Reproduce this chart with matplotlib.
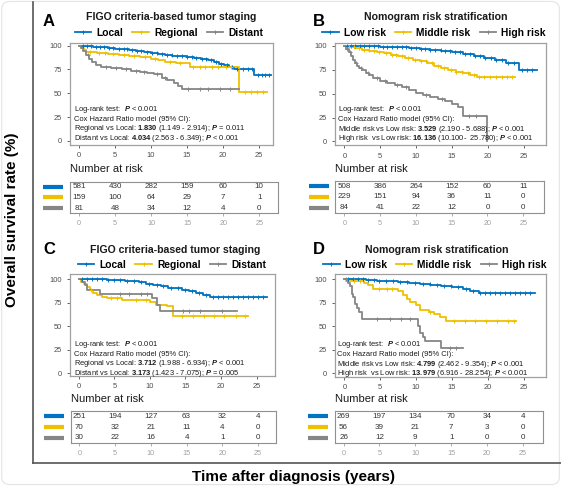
import numpy as np
import matplotlib
matplotlib.use("Agg")
import matplotlib.pyplot as plt
from matplotlib.lines import Line2D
from matplotlib.patches import FancyBboxPatch

plt.rcParams['font.family'] = ['Liberation Sans', 'DejaVu Sans']
plt.rcParams['mathtext.fontset'] = 'custom'
plt.rcParams['mathtext.rm'] = 'Liberation Sans'
plt.rcParams['mathtext.bf'] = 'Liberation Sans:bold'
plt.rcParams['mathtext.it'] = 'Liberation Sans:italic'
plt.rcParams['mathtext.bfit'] = 'Liberation Sans:italic:bold'

W, H = 561, 486
BLUE, YELLOW, GRAY = '#0073C2', '#EFC000', '#868686'
COLORS = [BLUE, YELLOW, GRAY]

# ---------------- data ----------------
# panel A: FIGO staging, training
a_local_t = [0, 0.5, 1.2, 2.0, 3.0, 4.0, 5.0, 6.0, 7.0, 8.0, 9.0, 10.0, 11.0, 12.0, 13.0,
             14.0, 15.0, 16.0, 17.0, 18.0, 18.8, 19.5, 20.2, 20.9, 21.6, 24.4]
a_local_s = [100, 99.6, 99.2, 98.8, 98.2, 97.4, 96.6, 96.0, 95.3, 94.6, 93.5, 92.5, 91.6, 90.6,
             89.6, 88.8, 87.8, 87.0, 86.0, 84.5, 82.5, 80.8, 79.5, 78.0, 76.0, 69.0]
a_local_end = 26.7
a_local_cens = [0.6, 1.1, 1.7, 2.4, 2.9, 3.5, 4.2, 4.8, 5.5, 6.2, 6.7, 7.4, 8.1, 8.7, 9.4, 10.2,
                10.8, 11.5, 12.3, 12.9, 13.6, 14.4, 15.1, 15.7, 16.3, 17.1, 17.7, 18.4, 19.1,
                19.8, 20.6, 21.3, 22.0, 22.8, 23.5, 24.1, 24.9, 25.4, 25.9, 26.4]
a_reg_t = [0, 0.3, 0.7, 1.0, 2.5, 4.0, 5.5, 7.0, 8.5, 10.0, 11.0, 12.0, 13.5, 15.4, 22.3]
a_reg_s = [100, 97.5, 95.0, 93.0, 92.0, 91.0, 90.0, 89.0, 87.8, 86.5, 84.5, 83.0, 81.5, 77.5, 51.0]
a_reg_end = 26.2
a_reg_cens = [1.5, 2.8, 3.6, 4.7, 6.3, 7.6, 9.2, 10.6, 12.6, 14.1, 15.9, 16.8, 17.6, 18.5,
              19.3, 20.4, 21.2, 23.1, 24.0, 24.8, 25.6]
a_dist_t = [0, 0.3, 0.6, 1.0, 1.4, 1.8, 2.3, 3.0, 4.5, 6.0, 7.2, 8.5, 9.5, 10.5, 11.5, 12.3,
            13.2, 13.8, 14.4]
a_dist_s = [100, 97.5, 94.0, 90.0, 86.5, 83.0, 80.0, 78.0, 76.5, 75.0, 73.5, 72.5, 71.5, 70.0,
            66.5, 64.0, 61.0, 58.0, 54.3]
a_dist_end = 22.2
a_dist_cens = [1.2, 3.8, 5.1, 6.6, 8.0, 9.0, 10.8, 12.0, 15.2, 16.8, 17.9, 19.6, 21.0]

# panel B: nomogram risk, training
b_low_t = [0, 1, 3, 5, 7, 9, 10.5, 12, 13.5, 15, 16.5, 18, 19.5, 21, 22.5, 24.4]
b_low_s = [100, 99.6, 99.2, 98.8, 98.2, 97.5, 96.5, 95.5, 94.3, 93.0, 91.5, 89.5, 87.5, 85.0,
           82.0, 74.5]
b_low_end = 26.8
b_low_cens = [0.4, 0.9, 1.5, 2.2, 2.8, 3.4, 4.1, 4.7, 5.4, 6.0, 6.6, 7.3, 8.0, 8.6, 9.3, 10.0,
              10.7, 11.3, 12.0, 12.7, 13.4, 14.0, 14.7, 15.4, 16.1, 16.8, 17.5, 18.2, 18.9,
              19.6, 20.4, 21.2, 22.0, 22.8, 23.6, 24.8, 25.5, 26.2]
b_mid_t = [0, 0.5, 1.5, 2.5, 3.5, 4.5, 5.5, 6.5, 7.5, 8.5, 9.5, 10.5, 11.5, 12.5, 13.5, 14.5,
           15.5, 16.5, 17.5, 18.5]
b_mid_s = [100, 98.5, 97.5, 96.0, 94.5, 93.3, 92.0, 90.5, 89.0, 87.5, 85.5, 83.8, 81.5, 79.0,
           77.0, 75.0, 73.0, 71.0, 69.0, 67.2]
b_mid_end = 23.8
b_mid_cens = [0.7, 1.3, 2.0, 2.8, 3.4, 4.1, 4.9, 5.8, 6.6, 7.2, 8.0, 8.9, 9.8, 10.7, 11.4, 12.2,
              13.0, 13.9, 14.8, 15.6, 16.4, 17.2, 18.0, 18.8, 19.5, 20.3, 21.1, 21.9, 22.6, 23.3]
b_high_t = [0, 0.3, 0.6, 0.9, 1.2, 1.5, 1.8, 2.1, 2.5, 3.0, 3.5, 4.0, 5.0, 6.0, 7.0, 8.0, 9.0,
            10.0, 11.0, 12.0, 13.0, 14.0, 15.0, 15.8, 16.6, 19.9]
b_high_s = [100, 97, 93, 89, 85, 82, 79, 77, 75, 72, 69, 66.5, 63.5, 61, 59, 56.5, 54, 50.5, 48,
            46.5, 44.5, 42, 39.5, 36, 26.5, 0]
b_high_end = 19.9
b_high_cens = [0.4, 0.8, 1.6, 2.3, 3.3, 4.6, 5.7, 7.4, 8.6, 11.4, 13.6, 17.4, 18.3]

# panel C: FIGO staging, validation
c_local_t = [0, 2, 4, 5.5, 6.5, 7.5, 8.5, 9.5, 10.5, 11.5, 12.5, 13.5, 14.5, 15.5, 16.5, 17.5,
             18.4]
c_local_s = [100, 99.6, 99.2, 98.8, 98.3, 97.5, 96.5, 95.0, 93.5, 92.3, 91.0, 90.0, 88.5, 87.0,
             85.5, 83.5, 80.8]
c_local_end = 26.5
c_local_cens = [0.5, 1.2, 1.9, 2.6, 3.3, 4.1, 4.9, 5.8, 6.8, 7.8, 8.8, 9.9, 11.0, 11.9, 12.9,
                13.9, 14.9, 15.9, 16.9, 17.9, 18.9, 19.6, 20.3, 21.0, 21.7, 22.4, 23.1, 23.8,
                24.5, 25.2, 25.9]
c_reg_t = [0, 0.3, 0.7, 1.1, 1.5, 2.0, 2.6, 3.2, 4.0, 6.0, 10.0, 10.8, 12.4, 13.3]
c_reg_s = [100, 97.1, 94.2, 91.3, 88.4, 85.5, 82.6, 81.1, 79.6, 77.5, 75.2, 72.7, 71.2, 60.5]
c_reg_end = 23.8
c_reg_cens = [1.7, 4.5, 5.3, 8.1, 9.5, 14.5, 16.1, 17.6, 19.0, 20.4, 22.1, 23.4]
c_dist_t = [0, 0.4, 0.8, 1.2, 3.0, 10.3, 11.0, 11.4]
c_dist_s = [100, 96.7, 93.3, 88.4, 84.4, 80.0, 72.5, 66.5]
c_dist_end = 22.2
c_dist_cens = [5.8, 7.0, 8.8, 9.6, 14.6, 15.5, 17.0, 20.1]

# panel D: nomogram risk, validation
d_low_t = [0, 1.5, 3, 4.5, 6, 7.5, 9, 10.5, 12, 13.5, 15, 16.5, 17.5, 18.8]
d_low_s = [100, 99.5, 99, 98.3, 97.6, 96.8, 95.8, 94.8, 93.5, 92.3, 91.0, 89.0, 87.2, 85.0]
d_low_end = 26.5
d_low_cens = [0.5, 1.2, 1.9, 2.6, 3.3, 4.1, 4.9, 5.8, 6.8, 7.8, 8.8, 9.9, 11.0, 11.9, 12.9,
              13.9, 14.9, 15.9, 16.9, 17.9, 18.9, 19.6, 20.3, 21.0, 21.7, 22.4, 23.1, 23.8,
              24.5, 25.2, 25.9]
d_mid_t = [0, 0.3, 2.8, 3.3, 4.0, 7.5, 8.2, 8.7, 9.2, 10.0, 10.5, 11.8, 12.5, 13.3, 14.2]
d_mid_s = [100, 97.6, 95.8, 93.5, 89.5, 87.5, 83.0, 79.0, 75.5, 72.0, 67.5, 64.5, 62.5, 60.0, 55.3]
d_mid_end = 23.9
d_mid_cens = [1.3, 2.2, 4.8, 5.9, 6.7, 12.0, 15.3, 16.8, 18.2, 19.7, 21.3, 22.8, 23.6]
d_high_t = [0, 0.5, 0.8, 1.0, 1.2, 1.5, 1.8, 2.1, 2.5, 10.3, 10.6, 10.9, 11.2, 13.5]
d_high_s = [100, 96.2, 92.3, 84.6, 80.8, 73.1, 69.2, 65.4, 57.7, 50.0, 42.3, 38.5, 34.6, 26.9]
d_high_end = 16.5
d_high_cens = [0.3, 4.5, 6.3, 7.9, 9.2, 14.7, 15.6]

risk_times = [0, 5, 10, 15, 20, 25]
a_risk = [[581, 430, 282, 159, 60, 10], [159, 100, 64, 29, 7, 1], [81, 48, 34, 12, 4, 0]]
b_risk = [[508, 386, 264, 152, 60, 11], [229, 151, 94, 36, 11, 0], [84, 41, 22, 12, 0, 0]]
c_risk = [[251, 194, 127, 63, 32, 4], [70, 32, 21, 11, 4, 0], [30, 22, 16, 4, 1, 0]]
d_risk = [[269, 197, 134, 70, 34, 4], [56, 39, 21, 7, 3, 0], [26, 12, 9, 1, 0, 0]]

figo_labels = ['Local', 'Regional', 'Distant']
nomo_labels = ['Low risk', 'Middle risk', 'High risk']

a_notes = [r'Log-rank test:  $\mathbfit{P}$ < 0.001',
           'Cox Hazard Ratio model (95% CI):',
           r'Regional vs Local: $\mathbf{1.830}$ (1.149 - 2.914); $\mathbfit{P}$ = 0.011',
           r'Distant vs Local: $\mathbf{4.034}$ (2.563 - 6.349); $\mathbfit{P}$ < 0.001']
b_notes = [r'Log-rank test:  $\mathbfit{P}$ < 0.001',
           'Cox Hazard Ratio model (95% CI):',
           r'Middle risk vs Low risk: $\mathbf{3.529}$ (2.190 - 5.688); $\mathbfit{P}$ < 0.001',
           r'High risk  vs Low risk: $\mathbf{16.136}$ (10.100-  25.780); $\mathbfit{P}$ < 0.001']
c_notes = [r'Log-rank test:  $\mathbfit{P}$ < 0.001',
           'Cox Hazard Ratio model (95% CI):',
           r'Regional vs Local: $\mathbf{3.712}$ (1.988 - 6.934); $\mathbfit{P}$ < 0.001',
           r'Distant vs Local: $\mathbf{3.173}$ (1.423 - 7.075); $\mathbfit{P}$ = 0.005']
d_notes = [r'Log-rank test:  $\mathbfit{P}$ < 0.001',
           'Cox Hazard Ratio model (95% CI):',
           r'Middle risk vs Low risk: $\mathbf{4.799}$ (2.462 - 9.354); $\mathbfit{P}$ < 0.001',
           r'High risk  vs Low risk: $\mathbf{13.979}$ (6.916 - 28.254); $\mathbfit{P}$ < 0.001']


def box(x0, y0, x1, y1):
    return [x0 / W, 1 - y1 / H, (x1 - x0) / W, (y1 - y0) / H]


def fpos(x, y):
    return x / W, 1 - y / H


def km_panel(fig, rect, xlim, ylim, curves, labels, letter, letter_xy, title, title_xy,
             legend_xy, notes, note_xy, note_step):
    ax = fig.add_axes(box(*rect))
    for (t, s, end, cens), col in zip(curves, COLORS):
        ax.step(t + [end], s + [s[-1]], where='post', color=col, lw=1.3, zorder=3)
        cens = np.array(cens)
        idx = np.searchsorted(t, cens, side='right') - 1
        ax.plot(cens, np.array(s)[idx], ls='none', marker='+', ms=3.5, mew=0.7,
                color=col, zorder=4)
    ax.set_xlim(*xlim)
    ax.set_ylim(*ylim)
    ax.set_xticks(risk_times)
    ax.set_yticks([0, 25, 50, 75, 100])
    ax.tick_params(labelsize=5.4, colors='#4d4d4d', length=2.5, width=0.6, pad=3)
    for sp in ax.spines.values():
        sp.set_color('#a0a0a0')
        sp.set_linewidth(0.9)
    fig.text(*fpos(*letter_xy), letter, fontsize=12, fontweight='bold', va='center')
    fig.text(*fpos(*title_xy), title, fontsize=7.6, fontweight='bold', ha='center',
             va='center', color='#1a1a1a')
    handles = [Line2D([], [], color=c, lw=1.3, marker='+', ms=3.5, mew=0.7) for c in COLORS]
    ax.legend(handles, labels, loc='center', bbox_to_anchor=fpos(*legend_xy),
              bbox_transform=fig.transFigure, ncol=3, frameon=False,
              prop={'size': 7.4, 'weight': 'bold'}, handlelength=1.6, handletextpad=0.5,
              columnspacing=0.9, borderpad=0, borderaxespad=0)
    for i, line in enumerate(notes):
        fig.text(*fpos(note_xy[0], note_xy[1] + i * note_step), line, fontsize=5.4,
                 va='center', color='#1a1a1a')
    return ax


def risk_table(fig, rect, xlim, rows, label_xy):
    ax = fig.add_axes(box(*rect))
    ax.set_xlim(*xlim)
    ax.set_ylim(0, 3)
    for i, (vals, col) in enumerate(zip(rows, COLORS)):
        y = 2.5 - i
        for t, v in zip(risk_times, vals):
            ax.text(t, y, str(v), ha='center', va='center', fontsize=5.8, color='#333333')
        ax.plot([-5.0, -2.2], [y, y], color=col, lw=3, solid_capstyle='butt', clip_on=False)
    ax.set_xticks(risk_times)
    ax.set_yticks([])
    ax.tick_params(labelsize=5.2, colors='#a0a0a0', length=2.5, width=0.6, pad=2.5)
    for sp in ax.spines.values():
        sp.set_color('#909090')
        sp.set_linewidth(0.8)
    fig.text(*fpos(*label_xy), 'Number at risk', fontsize=8, va='center', color='#1a1a1a')
    return ax


fig = plt.figure(figsize=(W / 100, H / 100), dpi=100)

km_panel(fig, (70, 43, 273, 144.5), (-1.25, 27.0), (-3.7, 102.8),
         [(a_local_t, a_local_s, a_local_end, a_local_cens),
          (a_reg_t, a_reg_s, a_reg_end, a_reg_cens),
          (a_dist_t, a_dist_s, a_dist_end, a_dist_cens)],
         figo_labels, 'A', (43, 21), 'FIGO criteria-based tumor staging', (171, 17),
         (169, 33), a_notes, (74, 109.5), 9.7)
km_panel(fig, (335, 43, 546, 145.5), (-1.3, 28.1), (-4.2, 102.8),
         [(b_low_t, b_low_s, b_low_end, b_low_cens),
          (b_mid_t, b_mid_s, b_mid_end, b_mid_cens),
          (b_high_t, b_high_s, b_high_end, b_high_cens)],
         nomo_labels, 'B', (313, 21), 'Nomogram risk stratification', (436, 17),
         (434, 33), b_notes, (338, 109.5), 9.8)
km_panel(fig, (70, 274.3, 275, 375.7), (-1.25, 27.6), (-2.5, 105.0),
         [(c_local_t, c_local_s, c_local_end, c_local_cens),
          (c_reg_t, c_reg_s, c_reg_end, c_reg_cens),
          (c_dist_t, c_dist_s, c_dist_end, c_dist_cens)],
         figo_labels, 'C', (43, 249), 'FIGO criteria-based tumor staging', (175, 250),
         (172, 265), c_notes, (74, 344.5), 9.7)
km_panel(fig, (335, 274.3, 546, 376.5), (-1.3, 28.1), (-3.4, 105.0),
         [(d_low_t, d_low_s, d_low_end, d_low_cens),
          (d_mid_t, d_mid_s, d_mid_end, d_mid_cens),
          (d_high_t, d_high_s, d_high_end, d_high_cens)],
         nomo_labels, 'D', (313, 249), 'Nomogram risk stratification', (437, 250),
         (435, 265), d_notes, (337, 344.5), 9.8)

risk_table(fig, (70, 181.7, 278, 213.3), (-1.25, 27.6), a_risk, (70, 169))
risk_table(fig, (335, 180.7, 544, 213.3), (-1.3, 27.9), b_risk, (335, 169))
risk_table(fig, (71, 410.7, 276, 443.3), (-1.16, 27.5), c_risk, (71, 399))
risk_table(fig, (335, 410.7, 543, 443.3), (-1.2, 27.8), d_risk, (335, 399))

fig.text(*fpos(12, 220), 'Overall survival rate (%)', rotation=90, fontsize=11,
         fontweight='bold', ha='center', va='center')
fig.text(*fpos(294, 477), 'Time after diagnosis (years)', fontsize=11, fontweight='bold',
         ha='center', va='center')

fig.add_artist(Line2D([33 / W, 33 / W], [1 - 2 / H, 1 - 463 / H], transform=fig.transFigure,
                      color='#555555', lw=1.2))
fig.add_artist(Line2D([33 / W, 1.0], [1 - 463 / H, 1 - 463 / H], transform=fig.transFigure,
                      color='#555555', lw=1.2))
fig.add_artist(FancyBboxPatch((0.003, 0.003), 0.994, 0.994,
                              boxstyle='round,pad=0,rounding_size=0.015',
                              transform=fig.transFigure, fill=False, ec='#e4e4e4', lw=0.8))

fig.savefig('out.png', dpi=100)
